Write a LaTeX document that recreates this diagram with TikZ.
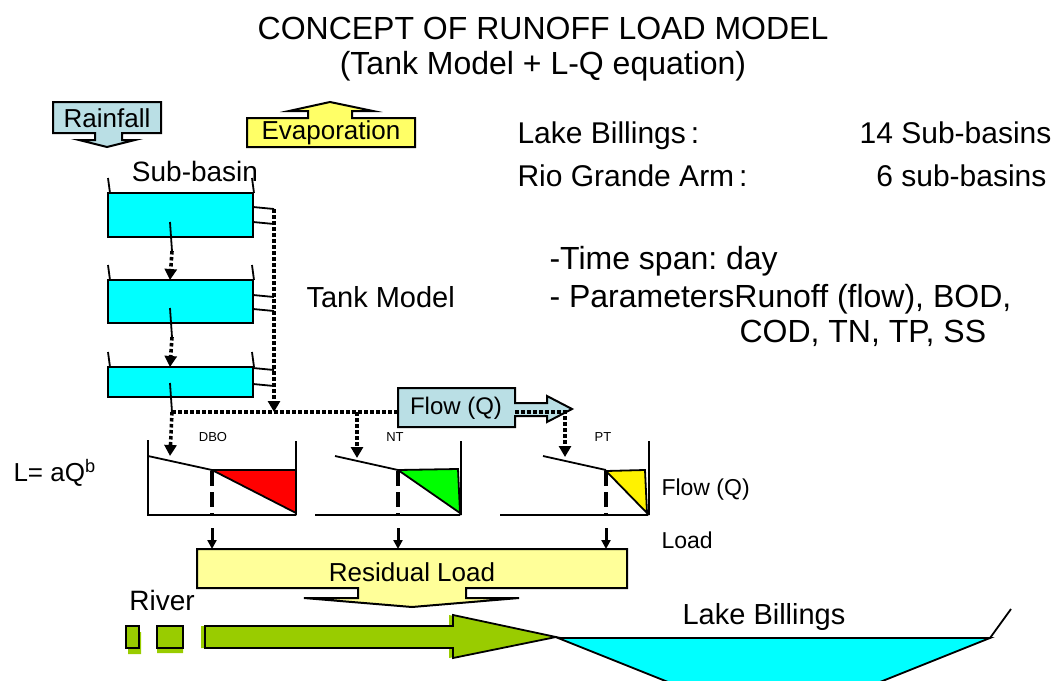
\documentclass[tikz,border=0pt]{standalone}
\usepackage{fontspec}
\setmainfont{Liberation Sans}
\usetikzlibrary{arrows.meta}

\definecolor{rainblue}{RGB}{186,223,229}
\definecolor{evapyellow}{RGB}{255,255,102}
\definecolor{resyellow}{RGB}{255,255,153}
\definecolor{tankcyan}{RGB}{0,255,255}
\definecolor{rivergreen}{RGB}{153,204,0}
\newcommand{\fsz}[1]{\fontsize{#1}{#1}\selectfont}
\frenchspacing

\tikzset{
  tank/.style={draw, line width=2pt, fill=tankcyan},
  callout/.style={draw, line width=2pt},
  axis/.style={line width=1.8pt},
  dotflow/.style={line width=3.6pt, dash pattern=on 3.5pt off 2.5pt},
  cutline/.style={line width=4.5pt, dash pattern=on 15pt off 6pt},
  tipfat/.style={-{Triangle[width=12pt,length=11pt]}},
  tipsmall/.style={-{Triangle[width=9pt,length=9pt]}},
}

\begin{document}
\begin{tikzpicture}[x=1pt, y=-1pt]
  \useasboundingbox (0,0) rectangle (1059,680);
  \clip (0,0) rectangle (1059,680);

  \node[font=\fsz{32}] (title) at (543,28) {CONCEPT OF RUNOFF LOAD MODEL};
  \node[font=\fsz{32}] (subtitle) at (543,66) {(Tank Model + L-Q equation)};

  % rain in, evaporation out
  \draw[callout, fill=rainblue] (53,102) -- (161,102) -- (161,133) -- (122,133) -- (122,140)
    -- (135,140) -- (107,147) -- (79,140) -- (95,140) -- (95,133) -- (53,133) -- cycle;
  \node[font=\fsz{26}] (rain) at (107,118) {Rainfall};
  \draw[callout, fill=evapyellow] (247,147) -- (415,147) -- (415,118) -- (352,118) -- (352,111)
    -- (373,111) -- (330,102) -- (289,111) -- (308,111) -- (308,118) -- (247,118) -- cycle;
  \node[font=\fsz{26}] (evap) at (331,133) {Evaporation};

  \node[font=\fsz{28}] (basin) at (195,171) {Sub-basin};
  \node[font=\fsz{29}, anchor=base west] (tankmodel) at (303,307) {Tank Model};

  % the three tanks
  \foreach \t/\b/\oa/\ob/\m [count=\i] in {193/237/207/222/222, 280/323/295/309/308, 367/397/368/384/383} {
    \draw[tank] (108,\t) rectangle (253,\b);
    \draw[axis] (108,\t-15) -- (110,\t) (252,\t-15) -- (254,\t);
    \draw[axis] (253,\oa) -- (274,\oa+2) (253,\ob) -- (274,\ob+2);
    \draw[axis] (170,\m) -- (172,\m+29);
    \coordinate (drain\i) at (172,\m+29);
    \coordinate (fill\i) at (170,\t);
  }
  \draw[dotflow, tipfat] (drain1) -- (fill2);
  \draw[dotflow, tipfat] (drain2) -- (fill3);

  \coordinate (side) at (274,209);
  \coordinate (junction) at (274,412);
  \coordinate (toDBO) at (170,456);
  \coordinate (toNT) at (357,458);
  \coordinate (toPT) at (565,457);
  \draw[dotflow, tipfat] (side) -- (junction);
  \draw[dotflow] (drain3) -- (398,412);
  \draw[dotflow, tipfat] (drain3) -- (toDBO);
  \draw[dotflow, tipfat] (357,412) -- (toNT);

  \draw[callout, fill=rainblue] (398,388) -- (515,388) -- (515,403) -- (547,403) -- (547,396)
    -- (572,409) -- (547,422) -- (547,416) -- (515,416) -- (515,427) -- (398,427) -- cycle;
  \node[font=\fsz{24}] (flow) at (456,408) {Flow (Q)};
  \draw[dotflow, tipfat] (515,412) -- (565,412) -- (toPT);

  % L-Q curves
  \node[font=\fsz{13}] (dbo) at (213,437) {DBO};
  \node[font=\fsz{13}] (nt) at (395,437) {NT};
  \node[font=\fsz{13}] (pt) at (603,437) {PT};

  \draw[axis, fill=red] (212,470) -- (296,470) -- (296,513) -- cycle;
  \draw[axis] (148,440) -- (148,515) -- (296,515) (296,441) -- (296,515) (148,456) -- (212,470);
  \draw[axis, fill=green] (398,470) -- (458,469) -- (460,513) -- cycle;
  \draw[axis] (315,515) -- (460,515) (461,441) -- (461,515) (335,456) -- (398,470);
  \draw[axis, fill=yellow] (606,471) -- (645,470) -- (647,513) -- cycle;
  \draw[axis] (500,515) -- (648,515) (649,441) -- (649,515) (543,456) -- (606,470);

  \foreach \x in {212, 398, 606} {
    \draw[cutline] (\x,471) -- (\x,515);
    \draw[line width=3pt, tipsmall] (\x,528) -- (\x,549);
  }

  \node[font=\fsz{26}, anchor=west] (lq) at (10,473) {L= aQ\textsuperscript{b}};
  \node[font=\fsz{23}, anchor=west] (qlabel) at (658,490) {Flow (Q)};
  \node[font=\fsz{23}, anchor=west] (loadlabel) at (658,540) {Load};

  \draw[callout, fill=resyellow] (197,549) -- (627,549) -- (627,588) -- (466,588) -- (466,598)
    -- (519,598) -- (412,607) -- (304,598) -- (358,598) -- (358,588) -- (197,588) -- cycle;
  \node[font=\fsz{26}] (residual) at (412,572) {Residual Load};

  % river and lake
  \node[font=\fsz{28}] (river) at (162,600) {River};
  \fill[rivergreen] (128,632) rectangle (141,654) (157,631) rectangle (183,653);
  \draw[axis, fill=rivergreen] (126,626) rectangle (139,648) (157,626) rectangle (183,648);
  \fill[rivergreen] (201,626) -- (449,626) -- (449,615) -- (552,637) -- (449,658) -- (449,648)
    -- (201,648) -- cycle;
  \draw[axis, fill=rivergreen] (205,626) -- (453,626) -- (453,615) -- (556,637) -- (453,658)
    -- (453,648) -- (205,648) -- cycle;

  \draw[axis, fill=tankcyan] (558,638) -- (990,638) -- (785,720) -- (763,720) -- cycle;
  \draw[axis] (990,638) -- (1011,609);
  \node[font=\fsz{29}] (lake) at (764,617) {Lake Billings};

  % basin counts and settings
  \node[font=\fsz{30}, anchor=base west] (lbname) at (514,143) {Lake Billings\,:};
  \node[font=\fsz{30}, anchor=base east] (lbcount) at (1055,143) {14 Sub-basins};
  \node[font=\fsz{30}, anchor=base west] (rgname) at (514,186) {Rio Grande Arm\,:};
  \node[font=\fsz{30}, anchor=base east] (rgcount) at (1050,186) {6 sub-basins};
  \node[font=\fsz{32}, anchor=base west] (span) at (546,269) {-Time span: day};
  \node[font=\fsz{32}, anchor=base west] (params) at (546,307) {- ParametersRunoff (flow), BOD,};
  \node[font=\fsz{32}, anchor=base west] (params2) at (736,342) {COD, TN, TP, SS};
\end{tikzpicture}
\end{document}
